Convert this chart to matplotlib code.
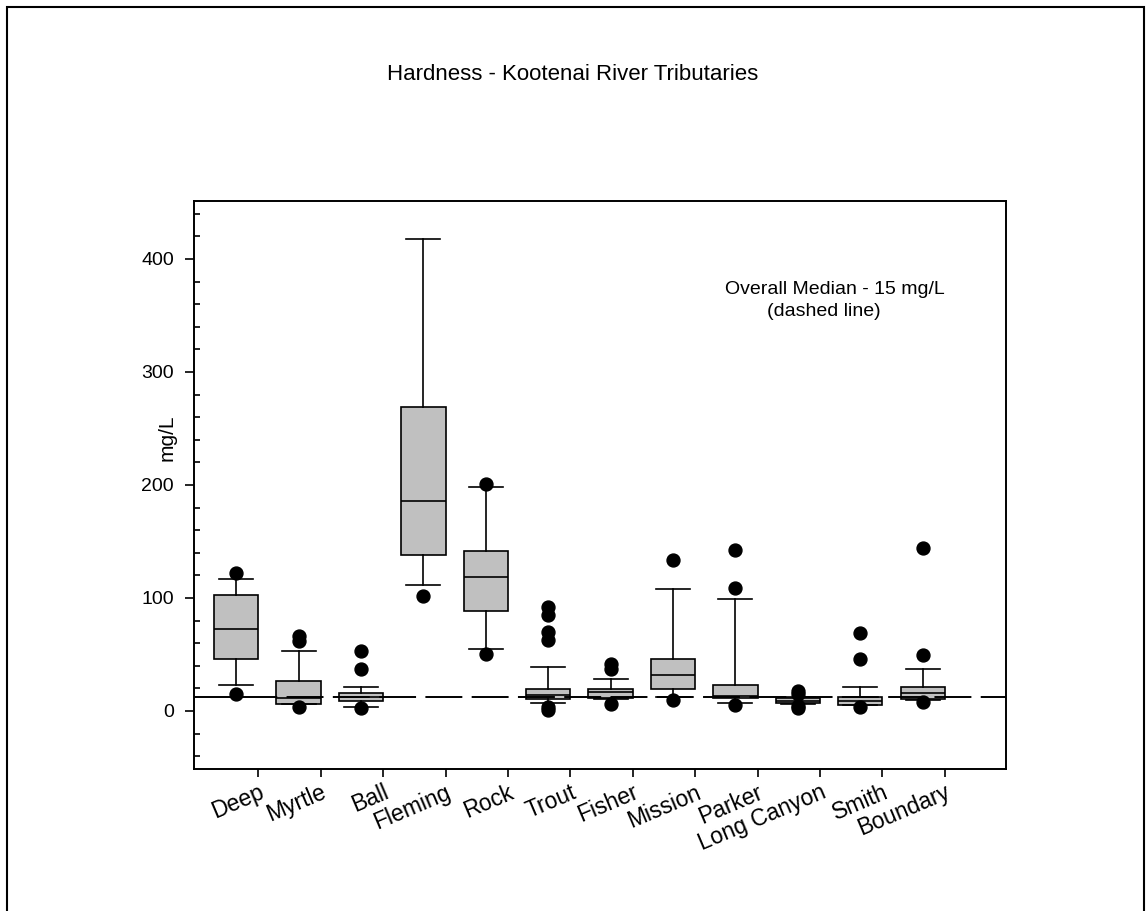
import matplotlib
matplotlib.use('Agg')
import matplotlib.pyplot as plt
import numpy as np
from matplotlib.patches import Rectangle
from matplotlib.ticker import MultipleLocator

plt.rcParams['font.family'] = ['Liberation Sans', 'DejaVu Sans']

# box statistics (mg/L)
streams = ['Deep', 'Myrtle', 'Ball', 'Fleming', 'Rock', 'Trout', 'Fisher',
           'Mission', 'Parker', 'Long Canyon', 'Smith', 'Boundary']
whis_lo = [22.8, 5.7, 3.5, 111.6, 54.6, 7.1, 10.5, 12.4, 7.4, 6.0, 5.0, 10.0]
q1 = [45.8, 6.5, 8.9, 138.2, 88.3, 10.6, 11.5, 19.5, 11.0, 7.0, 5.5, 10.6]
median = [72.4, 11.5, 12.0, 186.0, 118.7, 13.9, 16.8, 31.9, 13.0, 9.0, 8.9, 15.7]
q3 = [102.7, 26.6, 15.7, 268.7, 141.7, 19.5, 19.5, 45.8, 22.8, 11.0, 12.4, 21.0]
whis_hi = [116.6, 53.1, 21.3, 417.8, 198.4, 38.7, 28.3, 107.8, 98.9, 12.5, 21.0, 37.2]
outliers = [
    [122, 15.4],
    [66, 62, 3.5],
    [53, 37, 2.7],
    [102],
    [200.5, 50.8],
    [92, 85, 70, 62.6, 3.5, 0.6],
    [41.4, 37, 5.9],
    [134, 10],
    [142, 109, 5.5],
    [17.5, 15, 4.5, 3],
    [69, 46, 3.5],
    [144, 49.6, 7.7],
]
overall_line = 12.4
yticks = [0, 100, 200, 300, 400]

W, H = 1146, 911
fig = plt.figure(figsize=(W / 100, H / 100), dpi=100)
ax = fig.add_axes([193.7 / W, 142 / H, 812 / W, 568.3 / H])

stats = []
for i, name in enumerate(streams):
    stats.append(dict(label=name, whislo=whis_lo[i], q1=q1[i], med=median[i],
                      q3=q3[i], whishi=whis_hi[i], fliers=outliers[i]))

pos = np.arange(len(streams))
box_w = 0.71
lw = 1.2
ax.bxp(stats, positions=pos, widths=box_w, capwidths=0.545, patch_artist=True,
       boxprops=dict(facecolor='#c0c0c0', edgecolor='black', linewidth=lw),
       medianprops=dict(color='black', linewidth=lw),
       whiskerprops=dict(color='black', linewidth=lw),
       capprops=dict(color='black', linewidth=lw),
       flierprops=dict(marker='o', markerfacecolor='black',
                       markeredgecolor='black', markersize=9.3))

ax.axhline(overall_line, color='black', lw=1.4, dashes=(19, 4.8), zorder=4)

ax.set_xlim(-0.68, 12.33)
ax.set_ylim(-51.4, 451.6)
ax.set_xticks(pos + box_w / 2)
ax.set_xticklabels(streams, rotation=23, ha='right', va='top',
                   rotation_mode='anchor')
ax.set_yticks(yticks)
ax.yaxis.set_minor_locator(MultipleLocator(20))
ax.tick_params(axis='y', which='major', direction='out', length=6.2, width=1.2,
               labelsize=14, pad=8)
ax.tick_params(axis='y', which='minor', direction='in', length=4.5, width=1.2)
ax.tick_params(axis='x', direction='out', length=5.5, width=1.2,
               labelsize=16.5, pad=3)
for s in ax.spines.values():
    s.set_linewidth(1.4)

# axis title sits close to the axis, between the 300 and 200 labels
fig.text(177 / W, 1 - 438 / H, 'mg/L', rotation=90, ha='right', va='center',
         fontsize=15)

fig.text(0.5, 1 - 75 / H, 'Hardness - Kootenai River Tributaries',
         ha='center', va='center', fontsize=16)
fig.text(945 / W, 1 - 290 / H, 'Overall Median - 15 mg/L',
         ha='right', va='center', fontsize=14)
fig.text(767 / W, 1 - 312 / H, '(dashed line)',
         ha='left', va='center', fontsize=14)

# outer frame around the whole figure
fig.patches.append(Rectangle((7.3 / W, -0.05), (1144 - 7.3) / W, 1.05 - 7 / H,
                             transform=fig.transFigure, fill=False,
                             edgecolor='black', linewidth=1.5))

fig.savefig('out.png', dpi=100)
